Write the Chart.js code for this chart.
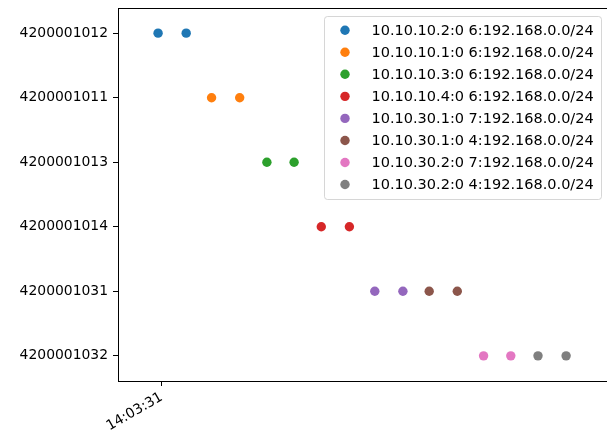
<!DOCTYPE html>
<html>
<head>
<meta charset="utf-8">
<script src="https://cdn.jsdelivr.net/npm/chart.js@4/dist/chart.umd.min.js"></script>
<style>
  html, body { margin: 0; padding: 0; background: #fff; }
</style>
</head>
<body>
<canvas id="chart" width="607" height="436"></canvas>
<script>
//Data
const yCategories = ['4200001012', '4200001011', '4200001013', '4200001014', '4200001031', '4200001032'];
const seriesLabels = [
    '10.10.10.2:0 6:192.168.0.0/24',
    '10.10.10.1:0 6:192.168.0.0/24',
    '10.10.10.3:0 6:192.168.0.0/24',
    '10.10.10.4:0 6:192.168.0.0/24',
    '10.10.30.1:0 7:192.168.0.0/24',
    '10.10.30.1:0 4:192.168.0.0/24',
    '10.10.30.2:0 7:192.168.0.0/24',
    '10.10.30.2:0 4:192.168.0.0/24'
];
const seriesCategory = ['4200001012', '4200001011', '4200001013', '4200001014', '4200001031', '4200001031', '4200001032', '4200001032'];
const seriesTimes = [
    ['14:03:30.996', '14:03:31.027'],
    ['14:03:31.055', '14:03:31.086'],
    ['14:03:31.116', '14:03:31.146'],
    ['14:03:31.176', '14:03:31.207'],
    ['14:03:31.235', '14:03:31.266'],
    ['14:03:31.295', '14:03:31.326'],
    ['14:03:31.355', '14:03:31.385'],
    ['14:03:31.415', '14:03:31.446']
];
const xTickLabels = ['14:03:31'];

//Colors (matplotlib tab10)
const colors = ['#1f77b4', '#ff7f0e', '#2ca02c', '#d62728', '#9467bd', '#8c564b', '#e377c2', '#7f7f7f'];

function toSeconds(t) {
    const p = t.split(':');
    return (+p[0]) * 3600 + (+p[1]) * 60 + parseFloat(p[2]);
}
function fmtTime(s) {
    const h = Math.floor(s / 3600), m = Math.floor((s % 3600) / 60), sec = Math.round(s % 60);
    return [h, m, sec].map(v => String(v).padStart(2, '0')).join(':');
}

const datasets = seriesLabels.map((label, i) => ({
    label: label,
    data: seriesTimes[i].map(t => ({ x: toSeconds(t), y: yCategories.indexOf(seriesCategory[i]) })),
    backgroundColor: colors[i],
    borderWidth: 0,
    pointRadius: 4.7,
    pointHoverRadius: 4.7
}));

const FONT = 13.9;
const LEGEND_FONT = 14.5;
Chart.defaults.font.family = "'DejaVu Sans', sans-serif";
Chart.defaults.font.size = FONT;
Chart.defaults.color = '#000';

//Top spine and legend box inside the plot
const extras = {
    id: 'extras',
    afterDraw(chart) {
        const c = chart.ctx;
        const a = chart.chartArea;
        c.save();
        c.strokeStyle = '#000';
        c.lineWidth = 1;
        c.beginPath();
        c.moveTo(a.left, a.top + 0.5);
        c.lineTo(a.right + 2, a.top + 0.5);
        c.stroke();

        const bx = 324.5, by = 16.5, bw = 277, bh = 183;
        c.beginPath();
        c.roundRect(bx, by, bw, bh, 3);
        c.fillStyle = 'rgba(255,255,255,0.8)';
        c.fill();
        c.strokeStyle = 'rgba(204,204,204,0.8)';
        c.stroke();

        c.font = LEGEND_FONT + "px 'DejaVu Sans'";
        c.textBaseline = 'middle';
        c.textAlign = 'left';
        chart.data.datasets.forEach((ds, i) => {
            const y = 30.2 + i * 22.05;
            c.beginPath();
            c.arc(345, y, 4.7, 0, Math.PI * 2);
            c.fillStyle = ds.backgroundColor;
            c.fill();
            c.fillStyle = '#000';
            c.fillText(ds.label, 371.5, y + 1);
        });
        c.restore();
    }
};

const tickSecs = xTickLabels.map(toSeconds);

new Chart(document.querySelector('#chart'), {
    type: 'scatter',
    data: { datasets: datasets },
    options: {
        responsive: false,
        animation: false,
        devicePixelRatio: 1,
        layout: { autoPadding: false, padding: { top: 8, right: 0, left: 0, bottom: 0 } },
        plugins: {
            legend: { display: false },
            tooltip: { enabled: false }
        },
        scales: {
            x: {
                type: 'linear',
                min: toSeconds('14:03:30.9518'),
                max: toSeconds('14:03:31.4911'),
                afterBuildTicks: s => { s.ticks = tickSecs.map(v => ({ value: v })); },
                afterFit: s => { s.height = 55; s.paddingLeft = 0; s.paddingRight = 0; },
                grid: { drawOnChartArea: false, drawTicks: true, tickLength: 5, color: '#000' },
                border: { display: true, color: '#000', width: 1 },
                ticks: {
                    autoSkip: false,
                    minRotation: 30,
                    maxRotation: 30,
                    padding: 3,
                    callback: v => fmtTime(v)
                }
            },
            y: {
                type: 'linear',
                reverse: true,
                min: -0.39,
                max: yCategories.length - 1 + 0.39,
                afterBuildTicks: s => { s.ticks = yCategories.map((_, i) => ({ value: i })); },
                afterFit: s => { s.width = 118; s.paddingTop = 0; s.paddingBottom = 0; },
                grid: { drawOnChartArea: false, drawTicks: true, tickLength: 5, color: '#000' },
                border: { display: true, color: '#000', width: 1 },
                ticks: {
                    autoSkip: false,
                    padding: 5,
                    callback: v => yCategories[v]
                }
            }
        }
    },
    plugins: [extras]
});
</script>
</body>
</html>
